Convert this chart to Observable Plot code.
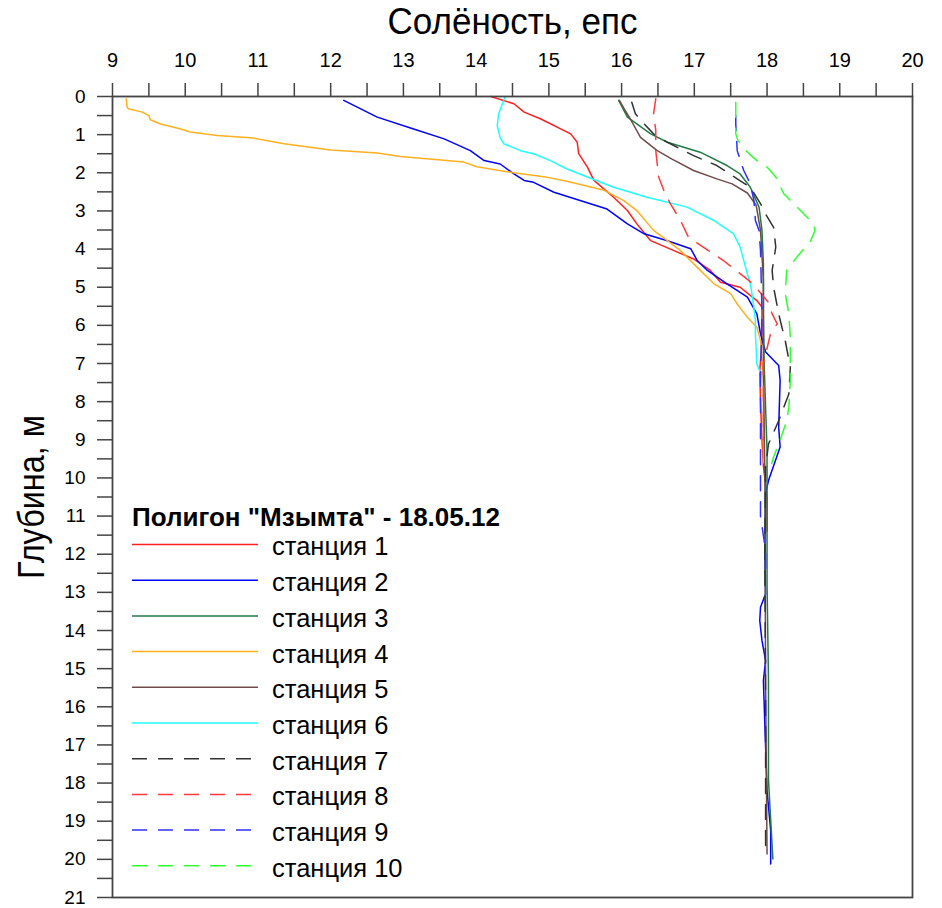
<!DOCTYPE html>
<html>
<head>
<meta charset="utf-8">
<script src="https://cdn.jsdelivr.net/npm/d3@7"></script>
<script src="https://cdn.jsdelivr.net/npm/@observablehq/plot@0.6"></script>
<style>
  html, body { margin: 0; padding: 0; background: #fff; }
  #chart { width: 942px; height: 908px; }
</style>
</head>
<body>
<div id="chart"></div>
<script>
// ---- Data: [depth (m), salinity (psu)] pairs per station ----
const station1 = [[0,14.2],[0.19,14.52],[0.41,14.66],[0.59,14.89],[0.98,15.3],[1.2,15.39],[1.5,15.41],[1.85,15.53],[2.2,15.62],[2.64,15.89],[2.99,16.08],[3.34,16.21],[3.78,16.4],[4.04,16.72],[4.26,16.99],[4.56,17.22],[4.87,17.36],[5.0,17.63],[5.35,17.86],[5.52,17.93],[6.4,17.93],[7.2,17.9],[8.0,17.91],[9.0,17.93],[9.7,17.95],[10.5,18.0],[11.4,18.0]];
const station2 = [[0.1,12.18],[0.54,12.64],[0.85,13.14],[1.11,13.56],[1.42,13.92],[1.68,14.11],[1.77,14.33],[2.03,14.52],[2.2,14.66],[2.25,14.79],[2.51,15.07],[2.95,15.8],[3.34,16.08],[3.6,16.31],[3.78,16.63],[3.99,16.95],[4.3,17.04],[4.56,17.18],[4.91,17.45],[5.26,17.73],[5.7,17.86],[6.22,17.91],[6.7,17.98],[7.05,18.16],[7.45,18.18],[8.67,18.16],[9.19,18.18],[10.07,18.02],[10.4,17.98],[12.0,17.97],[13.04,17.98],[13.39,17.91],[13.74,17.9],[14.26,17.93],[14.79,17.98],[15.31,17.95],[17.06,17.98],[18.2,18.0],[19.24,18.05],[20.12,18.05]];
const station3 = [[0.1,15.96],[0.54,16.08],[0.98,16.4],[1.2,16.63],[1.46,17.08],[1.81,17.45],[2.03,17.63],[2.38,17.77],[2.9,17.89],[3.51,17.93],[4.39,17.95],[5.7,17.95],[7.0,17.96],[9.28,18.0],[12.8,18.0],[15.31,18.02],[17.93,18.02],[19.99,18.08]];
const station4 = [[0.06,9.19],[0.28,9.2],[0.32,9.22],[0.41,9.41],[0.5,9.5],[0.61,9.52],[0.72,9.66],[0.85,9.94],[0.93,10.07],[1.02,10.44],[1.09,10.94],[1.24,11.36],[1.4,12.0],[1.48,12.64],[1.57,12.96],[1.72,13.83],[1.84,14.01],[2.0,14.52],[2.12,14.98],[2.2,15.2],[2.29,15.39],[2.46,15.76],[2.73,16.03],[2.99,16.21],[3.51,16.44],[3.78,16.63],[4.04,16.81],[4.48,17.04],[4.91,17.27],[5.17,17.5],[5.44,17.59],[5.79,17.73],[6.05,17.86],[6.4,17.91],[7.5,17.95],[9.6,17.95]];
const station5 = [[0.1,15.97],[0.4,16.06],[0.59,16.12],[1.07,16.26],[1.42,16.49],[1.65,16.7],[1.94,16.99],[2.16,17.31],[2.29,17.52],[2.53,17.73],[2.85,17.85],[3.51,17.91],[4.82,17.95],[7.0,17.95],[10.0,17.97],[15.3,17.98],[19.86,18.0]];
const station6 = [[0,14.4],[0.45,14.31],[0.76,14.29],[1.07,14.33],[1.24,14.38],[1.42,14.61],[1.5,14.79],[1.68,15.02],[1.9,15.25],[2.38,15.89],[2.64,16.35],[2.9,16.9],[3.25,17.27],[3.6,17.54],[3.95,17.63],[4.65,17.73],[4.91,17.77],[5.26,17.8],[5.87,17.84],[6.22,17.84],[7.01,17.86],[7.25,17.91]];
const station7 = [[0.15,16.14],[0.45,16.19],[0.72,16.31],[0.98,16.44],[1.2,16.63],[1.55,16.99],[1.81,17.31],[2.16,17.59],[2.38,17.77],[2.81,17.91],[3.08,17.98],[3.43,18.09],[3.95,18.12],[4.56,18.07],[5.0,18.09],[5.7,18.16],[6.4,18.25],[7.1,18.32],[7.8,18.3],[8.5,18.16],[9.11,18.02],[9.72,17.98],[12.0,17.97],[16.0,17.98],[19.8,17.98]];
const station8 = [[0.06,16.47],[0.45,16.44],[0.89,16.47],[1.42,16.47],[2.11,16.51],[2.46,16.58],[2.81,16.67],[3.25,16.81],[3.69,16.92],[4.3,17.4],[4.9,17.8],[5.4,18.02],[5.7,18.07],[5.96,18.14],[6.2,18.05],[7.0,17.95],[9.0,17.95]];
const station9 = [[0.5,17.57],[0.72,17.57],[1.42,17.59],[1.94,17.68],[2.29,17.77],[2.73,17.82],[3.25,17.84],[3.51,17.89],[4.04,17.91],[5.61,17.93],[7.53,17.91],[9.3,17.91],[11.0,17.91],[11.9,17.98],[12.6,17.98]];
const station10 = [[0.15,17.57],[0.98,17.57],[1.15,17.6],[1.46,17.73],[1.68,17.86],[1.85,18.0],[2.11,18.12],[2.55,18.23],[2.99,18.46],[3.34,18.64],[3.51,18.66],[3.78,18.6],[4.21,18.41],[4.56,18.27],[5.17,18.25],[5.7,18.3],[6.31,18.32],[7.45,18.32],[8.15,18.3],[8.5,18.27],[8.84,18.21],[9.11,18.16],[9.45,18.09],[9.72,18.05]];

const stationNames = ["станция 1","станция 2","станция 3","станция 4","станция 5","станция 6","станция 7","станция 8","станция 9","станция 10"];
const stationColors = ["#ff2020","#0000ff","#237a47","#ffb020","#6e4c4c","#20ffff","#333333","#ff3b3b","#3030ff","#30ff30"];
const stationDashed = [false,false,false,false,false,false,true,true,true,true];
const stations = [station1,station2,station3,station4,station5,station6,station7,station8,station9,station10];

const xMajorTicks = d3.range(9, 21, 1);
const xMinorTicks = d3.range(9.5, 20, 1);
const yMajorTicks = d3.range(0, 22, 1);
const yMinorTicks = d3.range(0.5, 21, 1);

const xTitle = "Солёность, епс";
const yTitle = "Глубина, м";
const legendTitle = "Полигон \"Мзымта\" - 18.05.12";

const narrow = "'Liberation Sans Narrow', 'Arial Narrow', 'Liberation Sans', sans-serif";
const dash = "15,11";

const lineMarks = stations.map((s, i) => Plot.line(s, {
  x: d => d[1], y: d => d[0],
  stroke: stationColors[i], strokeWidth: 1.5,
  strokeDasharray: stationDashed[i] ? dash : null,
  curve: "linear"
}));

const chart = Plot.plot({
  width: 942, height: 908,
  marginTop: 96, marginLeft: 112, marginRight: 30, marginBottom: 11,
  style: { fontFamily: "'Liberation Sans', Arial, sans-serif", fontSize: "20px", color: "#000", background: "#fff" },
  x: { domain: [9, 20] },
  y: { domain: [0, 21], reverse: true },
  marks: [
    Plot.axisX(xMajorTicks, { anchor: "top", tickSize: 14, tickPadding: 16, stroke: "#444", strokeWidth: 1.5, label: null, tickFormat: d => String(d), fontSize: 20 }),
    Plot.axisX(xMinorTicks, { anchor: "top", tickSize: 14, stroke: "#444", strokeWidth: 1.5, label: null, tickFormat: () => "" }),
    Plot.axisY(yMajorTicks, { anchor: "left", tickSize: 15, tickPadding: 12, stroke: "#444", strokeWidth: 1.5, label: null, tickFormat: d => String(d), fontSize: 19 }),
    Plot.axisY(yMinorTicks, { anchor: "left", tickSize: 15, stroke: "#444", strokeWidth: 1.5, label: null, tickFormat: () => "" }),
    ...lineMarks,
    Plot.frame({ stroke: "#444", strokeWidth: 1.8 }),
    Plot.text([xTitle], { frameAnchor: "top", dy: -74, lineAnchor: "middle", textAnchor: "middle", fontSize: 37, fontFamily: narrow, fill: "#000" }),
    Plot.text([yTitle], { frameAnchor: "left", dx: -80, rotate: -90, lineAnchor: "middle", textAnchor: "middle", fontSize: 37, fontFamily: narrow, fill: "#000" })
  ]
});

document.getElementById("chart").appendChild(chart);

const svg = d3.select(chart);
// condense the axis titles like the narrow face of the original
svg.selectAll("text").each(function () {
  const t = this.textContent;
  if (t === xTitle) d3.select(this).attr("textLength", 250).attr("lengthAdjust", "spacingAndGlyphs");
  if (t === yTitle) d3.select(this).attr("textLength", 164).attr("lengthAdjust", "spacingAndGlyphs");
});

// ---- Legend (drawn inside the plot area, top-left anchored) ----
const lg = svg.append("g")
  .attr("font-family", "'Liberation Sans', Arial, sans-serif")
  .attr("text-anchor", "start");
const lx = 132, ly = 517, rowH = 35.7;
lg.append("text").attr("x", lx).attr("y", ly).attr("dy", "0.35em")
  .attr("font-size", 26).attr("font-weight", "bold").attr("fill", "#000").text(legendTitle);
stationNames.forEach((name, i) => {
  const y = ly + 27.5 + i * rowH;
  lg.append("line").attr("x1", lx).attr("x2", stationDashed[i] ? 253 : 258)
    .attr("y1", y).attr("y2", y)
    .attr("stroke", stationColors[i]).attr("stroke-width", 1.5)
    .attr("stroke-dasharray", stationDashed[i] ? dash : null);
  lg.append("text").attr("x", 272).attr("y", y + 2).attr("dy", "0.35em")
    .attr("font-size", 25.5).attr("fill", "#000").text(name);
});
</script>
</body>
</html>
